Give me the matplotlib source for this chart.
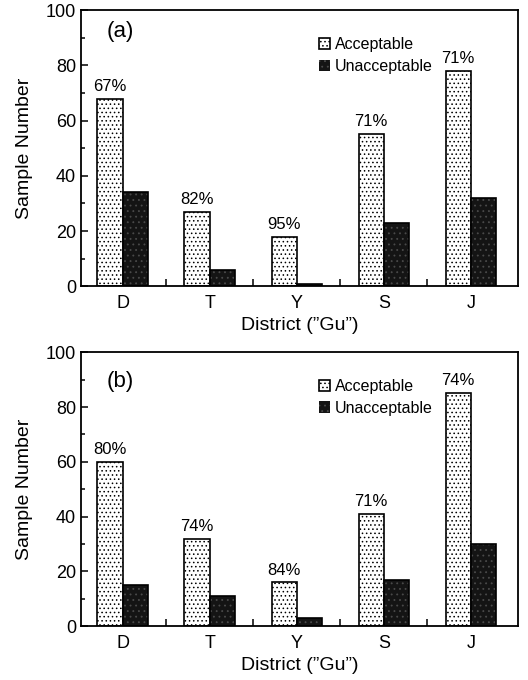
import numpy as np
import matplotlib
matplotlib.use("Agg")
import matplotlib.pyplot as plt

plt.rcParams['font.family'] = ['Liberation Sans', 'DejaVu Sans']
plt.rcParams['hatch.linewidth'] = 0.6

districts = ["D", "T", "Y", "S", "J"]

# panel (a)
acc_a = [68, 27, 18, 55, 78]
unacc_a = [34, 6, 1, 23, 32]
pct_a = ["67%", "82%", "95%", "71%", "71%"]

# panel (b)
acc_b = [60, 32, 16, 41, 85]
unacc_b = [15, 11, 3, 17, 30]
pct_b = ["80%", "74%", "84%", "71%", "74%"]

fig = plt.figure(figsize=(5.28, 6.8), dpi=100)
ax_a = fig.add_axes([0.153, 0.579, 0.828, 0.406])
ax_b = fig.add_axes([0.153, 0.079, 0.828, 0.403])

def draw_panel(ax, acc, unacc, pct, tag, tag_y):
    x = np.arange(1, len(districts) + 1)
    w = 0.29
    ax.bar(x - w / 2, acc, w, facecolor="white", edgecolor="black",
           hatch="....", linewidth=1.2, label="Acceptable")
    # dark bars: speckled fill, then black outline
    ax.bar(x + w / 2, unacc, w, facecolor="#141414", edgecolor="#4a4a4a",
           hatch="...", linewidth=0, label="Unacceptable")
    ax.bar(x + w / 2, unacc, w, fill=False, edgecolor="black", linewidth=1.2)
    for xi, a, p in zip(x, acc, pct):
        ax.text(xi - w / 2, a + 1.8, p, ha="center", va="bottom", fontsize=12)

    ax.set_xlim(0.52, 5.54)
    ax.set_ylim(0, 100)
    ax.set_xticks(x)
    ax.set_xticklabels(districts, fontsize=13)
    ax.set_xticks(x[:-1] + 0.5, minor=True)
    ax.set_yticks(np.arange(0, 101, 20))
    ax.set_yticks(np.arange(0, 101, 10), minor=True)
    ax.tick_params(axis="y", labelsize=13, direction="in", length=5, width=1.1)
    ax.tick_params(axis="y", which="minor", direction="in", length=3, width=1.1)
    ax.tick_params(axis="x", which="major", length=0, pad=6)
    ax.tick_params(axis="x", which="minor", direction="in", length=5, width=1.1)
    for s in ax.spines.values():
        s.set_linewidth(1.3)
    ax.set_ylabel("Sample Number", fontsize=14, labelpad=9)
    ax.set_xlabel("District (\u201dGu\u201d)", fontsize=14, labelpad=4)
    ax.text(0.058, tag_y, tag, transform=ax.transAxes, fontsize=16,
            ha="left", va="center")
    ax.legend(loc="upper left", bbox_to_anchor=(0.53, 0.925), frameon=False,
              fontsize=11.5, handlelength=0.7, handleheight=0.7,
              handletextpad=0.3, labelspacing=0.4, borderaxespad=0)

draw_panel(ax_a, acc_a, unacc_a, pct_a, "(a)", 0.924)
draw_panel(ax_b, acc_b, unacc_b, pct_b, "(b)", 0.894)

fig.savefig("out.png", dpi=100)
